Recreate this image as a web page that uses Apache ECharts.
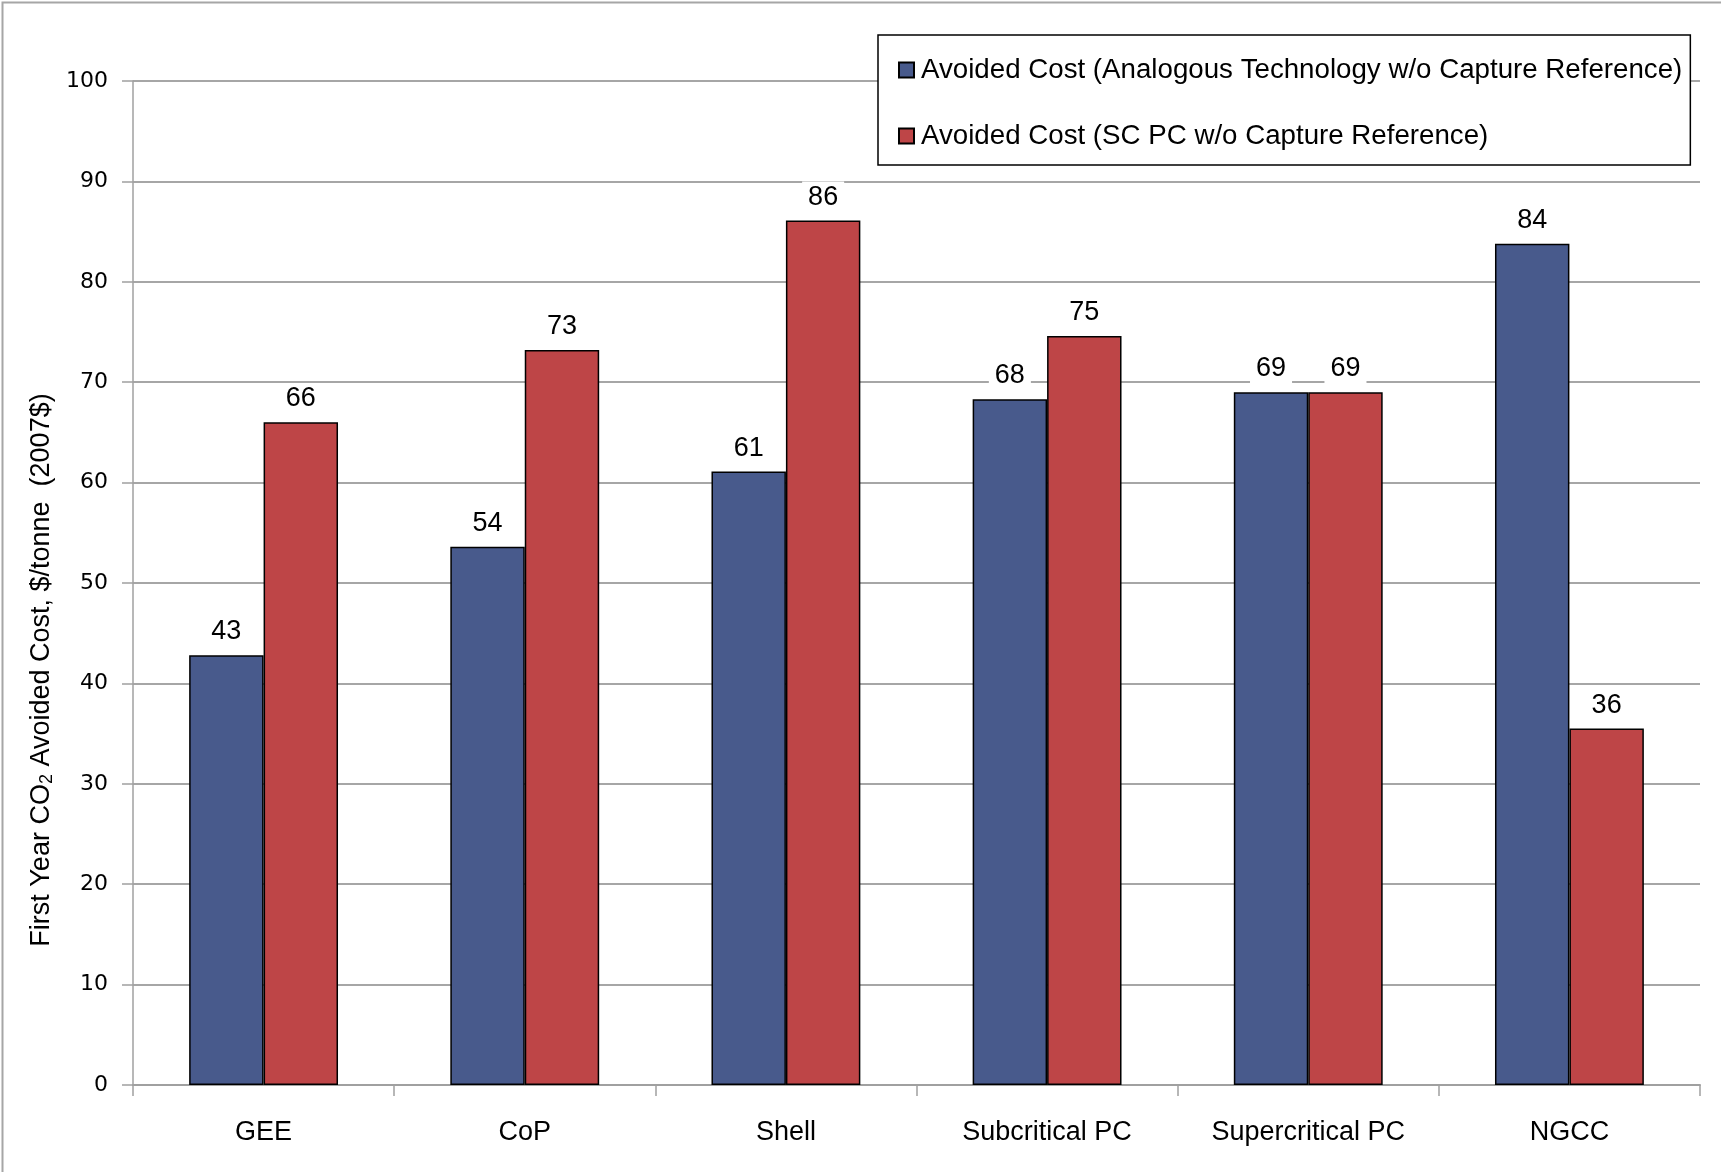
<!DOCTYPE html>
<html><head><meta charset="utf-8">
<script src="https://cdn.jsdelivr.net/npm/echarts@6/dist/echarts.min.js"></script>
<style>html,body{margin:0;padding:0;background:#fff}#c{width:1721px;height:1172px}</style>
</head><body><div id="c"></div>
<script>
const categories = ['GEE', 'CoP', 'Shell', 'Subcritical PC', 'Supercritical PC', 'NGCC'];
const seriesNames = ['Avoided Cost (Analogous Technology w/o Capture Reference)', 'Avoided Cost (SC PC w/o Capture Reference)'];
const analogousValues = [42.8, 53.6, 61.1, 68.3, 69.0, 83.8];
const scpcValues = [66.0, 73.2, 86.1, 74.6, 69.0, 35.5];
const yTicks = [0, 10, 20, 30, 40, 50, 60, 70, 80, 90, 100];

const FONT = "'Liberation Sans Narrow', 'Arial Narrow', 'Liberation Sans', sans-serif";
const chart = echarts.init(document.getElementById('c'), null, {renderer: 'canvas'});
const labelCfg = {
  show: true, position: 'top', distance: 8,
  formatter: p => Math.round(p.value),
  fontFamily: FONT, fontSize: 27, color: '#000',
  backgroundColor: '#fff', padding: [2, 6]
};
chart.setOption({
  animation: false,
  backgroundColor: '#fff',
  grid: {left: 133, right: 21, top: 81, bottom: 87, containLabel: false},
  legend: {
    orient: 'vertical', left: 878, top: 35,
    padding: [21, 8, 15, 20], itemGap: 38,
    itemWidth: 15, itemHeight: 15,
    borderColor: '#000', borderWidth: 1.5, backgroundColor: '#fff',
    textStyle: {fontFamily: FONT, fontSize: 27.7, color: '#000', padding: [0, 0, 0, 2]},
    data: seriesNames.map(n => ({name: n, icon: 'rect'}))
  },
  xAxis: {
    type: 'category', data: categories,
    axisLine: {lineStyle: {color: '#a0a0a0', width: 2}},
    axisTick: {show: true, length: 11, lineStyle: {color: '#a0a0a0', width: 1.5}},
    axisLabel: {fontFamily: FONT, fontSize: 27, color: '#000', margin: 34}
  },
  yAxis: {
    type: 'value', min: yTicks[0], max: yTicks[yTicks.length - 1], interval: 10,
    axisLine: {show: true, lineStyle: {color: '#a0a0a0', width: 1.5}},
    axisTick: {show: true, length: 11, lineStyle: {color: '#a0a0a0', width: 1.5}},
    axisLabel: {fontFamily: "'DejaVu Sans', sans-serif", fontSize: 22, color: '#000', margin: 25},
    splitLine: {lineStyle: {color: '#a6a6a6', width: 2}}
  },
  series: [
    {name: seriesNames[0], type: 'bar', data: analogousValues, barGap: '0%', barCategoryGap: '43%',
     itemStyle: {color: '#485A8C', borderColor: '#000', borderWidth: 1.5}, label: labelCfg},
    {name: seriesNames[1], type: 'bar', data: scpcValues,
     itemStyle: {color: '#BE4547', borderColor: '#000', borderWidth: 1.5}, label: labelCfg}
  ],
  graphic: [
    {type: 'rect', left: 0, top: 0, shape: {width: 1720, height: 1171},
     style: {fill: 'none', stroke: '#a6a6a6', lineWidth: 2}, silent: true, z: 100},
    {type: 'text', x: 42, y: 670, rotation: Math.PI / 2,
     style: {
       text: '{a|First Year CO}{s|2}{a| Avoided Cost, $/tonne  (2007$)}',
       align: 'center', verticalAlign: 'middle',
       rich: {
         a: {fontFamily: FONT, fontSize: 27, color: '#000'},
         s: {fontFamily: FONT, fontSize: 18, color: '#000', verticalAlign: 'bottom', padding: [10, 0, 0, 0]}
       }
     }}
  ]
});
</script></body></html>
